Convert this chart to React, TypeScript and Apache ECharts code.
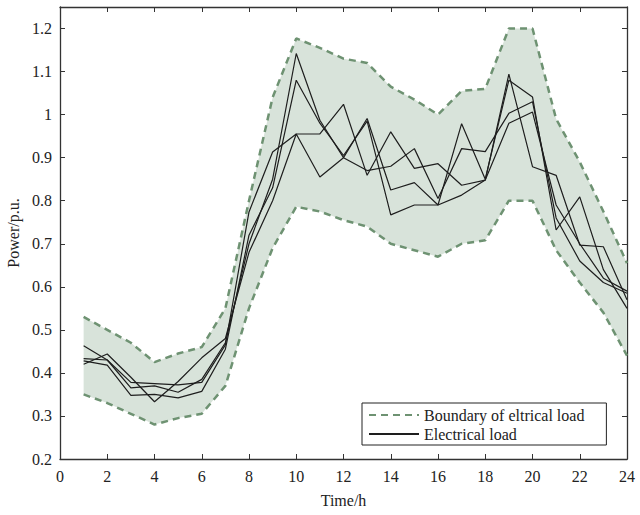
import React, { useEffect, useRef } from "react";
import * as echarts from "echarts";

// Hour of day
const hours = [1, 2, 3, 4, 5, 6, 7, 8, 9, 10, 11, 12, 13, 14, 15, 16, 17, 18, 19, 20, 21, 22, 23, 24];

// Upper and lower boundary of the electrical load (p.u.)
const upperBound = [0.53, 0.5, 0.47, 0.425, 0.445, 0.46, 0.55, 0.8, 1.04, 1.177, 1.155, 1.13, 1.12, 1.065, 1.035, 1.0, 1.055, 1.06, 1.2, 1.2, 0.99, 0.89, 0.775, 0.655];
const lowerBound = [0.35, 0.33, 0.305, 0.28, 0.295, 0.305, 0.37, 0.55, 0.69, 0.786, 0.775, 0.755, 0.74, 0.7, 0.685, 0.67, 0.7, 0.708, 0.8, 0.8, 0.685, 0.61, 0.54, 0.44];

// Four electrical load scenarios (p.u.)
const loadA = [0.463, 0.43, 0.378, 0.375, 0.372, 0.378, 0.465, 0.774, 0.913, 0.955, 0.955, 1.024, 0.859, 0.96, 0.875, 0.886, 0.836, 0.848, 1.094, 0.879, 0.859, 0.697, 0.693, 0.57];
const loadB = [0.433, 0.43, 0.365, 0.37, 0.355, 0.385, 0.47, 0.7, 0.85, 1.142, 0.987, 0.9, 0.991, 0.825, 0.842, 0.79, 0.979, 0.85, 1.08, 1.041, 0.732, 0.809, 0.64, 0.55];
const loadC = [0.428, 0.418, 0.348, 0.35, 0.342, 0.357, 0.455, 0.72, 0.83, 1.08, 0.98, 0.905, 0.985, 0.767, 0.79, 0.79, 0.813, 0.848, 0.98, 1.006, 0.79, 0.7, 0.62, 0.59];
const loadD = [0.42, 0.444, 0.39, 0.333, 0.38, 0.435, 0.48, 0.68, 0.8, 0.955, 0.855, 0.9, 0.87, 0.88, 0.921, 0.805, 0.921, 0.914, 1.003, 1.03, 0.76, 0.66, 0.61, 0.585];

const BOUNDARY_NAME = "Boundary of eltrical load";
const LOAD_NAME = "Electrical load";

const FONT = "'Liberation Serif', 'DejaVu Serif', serif";
const FONT_SIZE = 16;
const TEXT_COLOR = "#222";
const AXIS_COLOR = "#333";
const BAND_FILL = "#d8e3da";
const DASH_COLOR = "#6e9272";

const pairs = (ys: number[]) => hours.map((h, i) => [h, ys[i]]);

export default function App() {
  const ref = useRef<HTMLDivElement>(null);

  useEffect(() => {
    if (!ref.current) return;
    const chart = echarts.init(ref.current, undefined, { renderer: "svg" });

    const textStyle = { fontFamily: FONT, fontSize: FONT_SIZE, color: TEXT_COLOR };
    const tickStyle = { show: true, inside: true, length: 5, lineStyle: { color: AXIS_COLOR, width: 1 } };
    const lineStyleAxis = { show: true, onZero: false, lineStyle: { color: AXIS_COLOR, width: 1.3 } };

    const loadSeries = [loadA, loadB, loadC, loadD].map((ys) => ({
      name: LOAD_NAME,
      type: "line",
      data: pairs(ys),
      symbol: "none",
      z: 4,
      itemStyle: { color: "#1e1e1e" },
      lineStyle: { color: "#1e1e1e", width: 1.2 },
    }));

    chart.setOption({
      animation: false,
      backgroundColor: "#fff",
      grid: { left: 60, right: 13, top: 7, bottom: 56, outerBoundsMode: "none" },
      legend: {
        data: [BOUNDARY_NAME, LOAD_NAME],
        orient: "vertical",
        left: 362,
        top: 403,
        itemWidth: 50,
        itemHeight: 16,
        itemGap: 3,
        padding: [4, 22, 3, 6],
        backgroundColor: "#fff",
        borderColor: "#222",
        borderWidth: 1,
        borderRadius: 0,
        selectedMode: false,
        itemStyle: { opacity: 0 },
        textStyle,
      },
      xAxis: [
        {
          type: "value",
          min: 0,
          max: 24,
          interval: 2,
          name: "Time/h",
          nameLocation: "middle",
          nameGap: 33,
          nameTextStyle: textStyle,
          axisLine: lineStyleAxis,
          axisTick: tickStyle,
          axisLabel: { ...textStyle, margin: 9 },
          splitLine: { show: false },
        },
        {
          type: "value",
          position: "top",
          min: 0,
          max: 24,
          interval: 2,
          axisLine: lineStyleAxis,
          axisTick: tickStyle,
          axisLabel: { show: false },
          splitLine: { show: false },
        },
      ],
      yAxis: [
        {
          type: "value",
          min: 0.2,
          max: 1.25,
          interval: 0.1,
          name: "Power/p.u.",
          nameLocation: "middle",
          nameGap: 37,
          nameTextStyle: textStyle,
          axisLine: lineStyleAxis,
          axisTick: tickStyle,
          axisLabel: {
            ...textStyle,
            margin: 8,
            formatter: (v: number) => {
              const r = Math.round(v * 10) / 10;
              return Math.abs(r - v) > 1e-6 ? "" : String(r);
            },
          },
          splitLine: { show: false },
        },
        {
          type: "value",
          position: "right",
          min: 0.2,
          max: 1.25,
          interval: 0.1,
          axisLine: lineStyleAxis,
          axisTick: tickStyle,
          axisLabel: { show: false },
          splitLine: { show: false },
        },
      ],
      series: [
        {
          // Shaded region between the lower and upper boundary
          name: "band",
          type: "custom",
          data: [0],
          z: 1,
          silent: true,
          renderItem: (params: any, api: any) => {
            const top = hours.map((h, i) => api.coord([h, upperBound[i]]));
            const bottom = hours.map((h, i) => api.coord([h, lowerBound[i]])).reverse();
            return {
              type: "polygon",
              shape: { points: top.concat(bottom) },
              style: { fill: BAND_FILL, stroke: "none" },
            };
          },
        },
        {
          name: BOUNDARY_NAME,
          type: "line",
          data: pairs(upperBound),
          symbol: "none",
          z: 3,
          itemStyle: { color: DASH_COLOR },
          lineStyle: { color: DASH_COLOR, width: 2.5, type: [7, 5] },
        },
        {
          name: BOUNDARY_NAME,
          type: "line",
          data: pairs(lowerBound),
          symbol: "none",
          z: 3,
          itemStyle: { color: DASH_COLOR },
          lineStyle: { color: DASH_COLOR, width: 2.5, type: [7, 5] },
        },
        ...loadSeries,
      ],
    });

    return () => chart.dispose();
  }, []);

  return <div ref={ref} style={{ position: "absolute", left: 0, top: 0, width: 640, height: 515 }} />;
}
